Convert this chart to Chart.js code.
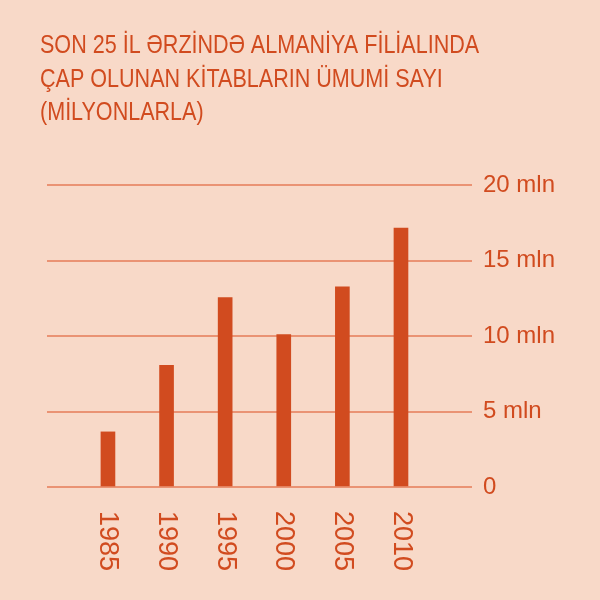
<!DOCTYPE html>
<html>
<head>
<meta charset="utf-8">
<script src="https://cdn.jsdelivr.net/npm/chart.js@4/dist/chart.umd.min.js"></script>
<style>
  html, body { margin: 0; padding: 0; background: #f8d9c8; }
  #wrap { width: 600px; height: 600px; }
</style>
</head>
<body>
<div id="wrap"><canvas id="books"></canvas></div>
<script>
// data (millions of books)
var years = [1985, 1990, 1995, 2000, 2005, 2010];
var yearLabels = ["1985", "1990", "1995", "2000", "2005", "2010"];
var books = [3.65, 8.05, 12.55, 10.1, 13.25, 17.15];
var titleLines = [
  "SON 25 İL ƏRZİNDƏ ALMANİYA FİLİALINDA",
  "ÇAP OLUNAN KİTABLARIN ÜMUMİ SAYI",
  "(MİLYONLARLA)"
];
var yTicks = [0, 5, 10, 15, 20];

var red = "#d14b1f";
var grid = "#ea9374";

// condensed title (no narrow font installed, so squeeze the regular one)
var titleText = {
  id: 'titleText',
  afterDraw: function (chart) {
    var c = chart.ctx;
    c.save();
    c.fillStyle = red;
    c.font = '25px "Liberation Sans", Arial, sans-serif';
    c.textAlign = 'left';
    c.textBaseline = 'alphabetic';
    titleLines.forEach(function (line, i) {
      c.save();
      c.translate(40, 53 + i * 33.5);
      c.scale(0.862, 1);
      c.fillText(line, 0, 0);
      c.restore();
    });
    c.restore();
  }
};

// rotated year labels under each bar, placed with the x scale
var yearText = {
  id: 'yearText',
  afterDraw: function (chart) {
    var c = chart.ctx, xs = chart.scales.x, bottom = chart.chartArea.bottom;
    c.save();
    c.fillStyle = red;
    c.font = '27px "Liberation Sans", Arial, sans-serif';
    c.textAlign = 'left';
    c.textBaseline = 'middle';
    years.forEach(function (yr, i) {
      c.save();
      c.translate(xs.getPixelForValue(yr), bottom + 24);
      c.rotate(Math.PI / 2);
      c.fillText(yearLabels[i], 0, 0);
      c.restore();
    });
    c.restore();
  }
};

var ctx = document.getElementById('books').getContext('2d');
var myChart = new Chart(ctx, {
  type: 'bar',
  data: {
    datasets: [{
      data: years.map(function (yr, i) { return { x: yr, y: books[i] }; }),
      backgroundColor: red,
      barThickness: 14
    }]
  },
  plugins: [titleText, yearText],
  options: {
    responsive: true,
    maintainAspectRatio: false,
    animation: false,
    layout: { padding: { left: 47, right: 0, top: 185, bottom: 0 } },
    plugins: {
      legend: { display: false },
      tooltip: { enabled: false },
      title: { display: false }
    },
    scales: {
      x: {
        type: 'linear',
        offset: false,
        min: 1979.8,
        max: 2016.06,
        grid: { display: false },
        border: { display: false },
        ticks: { display: false },
        afterFit: function (s) { s.height = 113; }
      },
      y: {
        position: 'right',
        min: 0,
        max: 20,
        afterBuildTicks: function (s) { s.ticks = yTicks.map(function (v) { return { value: v }; }); },
        grid: { color: grid, lineWidth: 2, drawTicks: false },
        border: { display: false },
        ticks: {
          padding: 11,
          color: red,
          font: { family: '"Liberation Sans", Arial, sans-serif', size: 24 },
          callback: function (v) { return v === 0 ? '0' : v + ' mln'; }
        },
        afterFit: function (s) { s.width = 128; }
      }
    }
  }
});
</script>
</body>
</html>
